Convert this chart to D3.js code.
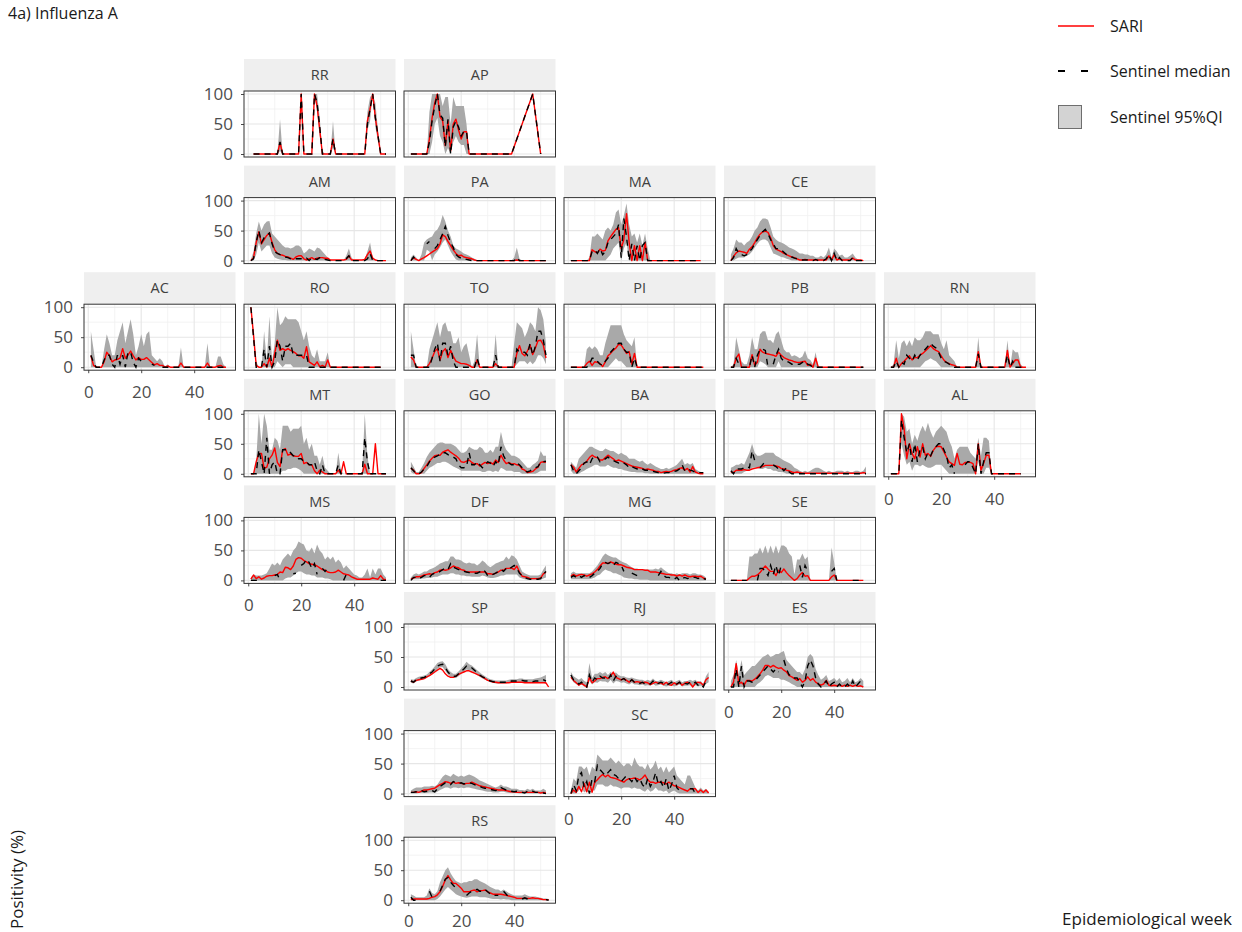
<!DOCTYPE html>
<html><head><meta charset="utf-8">
<script src="https://cdn.jsdelivr.net/npm/d3@7"></script>
<style>
body{margin:0;background:#fff}
svg{font-family:"Open Sans",sans-serif;display:block}
</style>
</head><body>
<svg id="c" width="1242" height="932"></svg>
<script>
const U = undefined; // week without any row (line connects across it)

const states  = ["RR","AP","AM","PA","MA","CE","AC","RO","TO","PI","PB","RN","MT","GO","BA","PE","AL","MS","DF","MG","SE","SP","RJ","ES","PR","SC","RS"];
const gridCol = [1,2, 1,2,3,4, 0,1,2,3,4,5, 1,2,3,4,5, 1,2,3,4, 2,3,4, 2,3, 2];
const gridRow = [0,0, 1,1,1,1, 2,2,2,2,2,2, 3,3,3,3,3, 4,4,4,4, 5,5,5, 6,6, 7];
const weeks = d3.range(1, 54);
const xTicks = [0, 20, 40];
const yTicks = [0, 50, 100];
const legendLabels = ["SARI", "Sentinel median", "Sentinel 95%QI"];

const sari = {
RR:[null,0,0,0,0,0,0,0,0,0, 0,19,0,0,0,0,0,0,0,100, 0,0,0,0,100,80,40,0,0,0, 0,25,0,0,0,0,0,0,0,0, 0,0,0,0,55,75,100,60,30,0, 0,0,null],
AP:[0,0,0,0,0,0,0,25,60,85, 100,62,55,14,55,5,50,58,40,25, 37,37,0,0,0,0,0,0,0,0, 0,0,0,0,0,0,0,0,0,U, U,U,U,U,U,U,100,U,U,0, U,U,U],
AM:[0,5,30,48,28,35,42,46,30,18, 12,10,9,7,6,4,2,6,8,8, 3,1,3,5,2,4,5,5,4,4, 1,1,1,1,1,1,2,8,1,1, 1,1,1,2,10,16,4,1,0,0, 0,0,null],
PA:[0,5,2,0,3,5,8,11,14,17, 20,28,43,40,32,25,18,12,8,9, 6,5,4,3,1,0,0,0,0,0, 0,0,0,0,0,0,0,0,0,0, 1,0,0,0,0,0,0,0,0,0, 0,0,null],
MA:[0,0,0,0,0,0,0,0,18,15, 13,19,16,17,33,40,46,52,55,20, 35,78,30,0,25,0,25,0,30,0, 0,0,0,0,0,0,0,0,0,0, 0,0,0,0,0,0,0,0,0,0, null,null,null],
CE:[0,7,13,16,15,14,12,19,23,30, 38,44,48,49,47,38,25,19,17,15, 12,10,8,6,5,3,1,1,2,1, 1,1,1,1,1,1,1,8,1,10, 1,3,1,1,1,1,4,1,1,1, 0,null,null],
AC:[19,3,0,0,0,9,25,19,9,12, 13,15,31,15,20,27,19,12,16,13, 13,16,12,8,4,6,3,3,0,2, 0,0,0,0,7,0,0,0,0,0, 0,0,0,0,7,0,0,0,2,3, 0,0,null],
RO:[100,54,3,0,0,6,0,15,0,23, 45,28,31,28,31,28,26,23,19,19, 15,34,9,6,3,9,1,3,0,12, 0,0,0,0,0,0,0,0,0,0, 0,0,0,0,0,0,0,0,0,0, null,null,null],
TO:[17,12,0,0,0,0,0,6,15,26, 31,12,26,31,16,28,18,10,8,6, 6,5,3,0,0,12,0,0,0,0, 0,0,6,0,0,0,0,0,0,0, 23,36,23,19,27,37,21,32,44,45, 37,15,null],
PI:[0,0,0,0,0,0,6,10,3,9, 8,6,1,9,19,23,28,32,38,37, 30,23,26,5,23,0,0,0,0,0, 0,0,0,0,0,0,0,0,0,0, 0,0,0,0,0,0,0,0,0,0, 0,null,null],
PB:[0,0,15,22,0,0,0,0,21,3, 8,30,25,23,22,21,20,18,25,20, 16,14,12,11,9,8,8,9,10,3, 5,0,15,0,0,0,0,0,0,0, 0,0,0,0,0,0,0,0,0,0, 0,null,null],
RN:[0,0,15,0,6,10,15,19,12,16, 16,20,23,27,31,36,31,28,26,19, 12,8,6,4,3,0,0,0,0,0, 0,0,0,26,0,0,0,0,0,0, 0,0,0,0,28,0,6,12,12,0, 0,0,null],
MT:[0,0,20,34,34,9,11,25,31,43, 19,12,40,42,31,33,30,29,29,34, 17,19,15,15,5,0,6,3,0,0, 0,0,0,6,0,20,0,0,0,0, 0,0,0,16,0,0,0,50,0,0, 0,0,null],
GO:[9,6,0,0,2,9,15,21,26,30, 31,31,36,38,40,36,33,30,26,20, 19,21,23,19,16,17,13,16,19,17, 19,16,23,19,31,23,17,19,16,17, 15,14,8,6,2,3,4,8,11,19, 20,19,null],
BA:[15,11,3,9,15,17,21,27,31,28, 27,23,23,27,31,28,25,21,23,21, 19,17,15,13,12,11,10,9,7,8, 7,6,4,4,2,3,4,3,4,6, 7,9,10,6,9,3,12,3,1,0, 0,null,null],
PE:[3,2,6,6,6,7,6,6,8,9, 10,11,12,14,14,14,14,13,12,9, 8,6,5,3,2,3,2,1,1,1, 1,1,1,1,1,1,1,1,1,1, 1,1,1,1,1,1,1,1,1,1, 2,1,null],
AL:[0,0,0,0,100,75,25,50,34,25, 45,28,50,31,34,29,39,45,46,45, 37,28,20,17,14,34,16,15,19,19, 19,17,0,50,6,17,31,31,0,0, 0,0,0,0,0,0,0,0,0,0, null,null,null],
MS:[2,9,3,6,2,4,7,8,8,9, 10,14,13,22,21,18,24,35,38,37, 33,31,28,27,26,24,21,18,17,14, 13,13,14,17,14,11,10,9,6,4, 2,2,2,2,2,2,4,3,2,8, 2,1,null],
DF:[2,4,6,6,7,9,10,11,10,13, 14,17,18,17,18,21,24,22,21,18, 17,14,14,14,14,14,14,14,14,11, 11,10,12,14,17,17,20,20,21,18, 24,14,7,6,5,3,3,3,3,4, 11,14,null],
MG:[7,10,7,9,10,9,7,9,11,14, 18,24,29,29,28,31,29,27,26,26, 24,22,21,20,18,18,18,18,17,17, 14,14,14,13,12,11,10,10,9,9, 7,9,7,9,7,6,7,7,6,7, 4,2,null],
SE:[0,0,0,0,0,0,0,4,7,7, 9,13,19,24,19,15,15,8,17,13, 19,13,8,4,0,3,9,13,7,8, 0,0,0,0,0,0,0,0,6,9, 0,0,0,0,0,0,0,0,0,0, 0,null,null],
SP:[10,8,11,12,13,14,17,19,22,25, 28,31,28,22,18,16,16,18,21,23, 25,27,27,25,23,21,19,17,14,11, 10,8,8,7,7,7,7,7,8,8, 8,8,8,7,7,7,7,7,7,7, 7,7,0],
RJ:[16,11,7,3,6,3,0,16,7,10, 14,14,16,17,14,18,25,16,14,12, 14,11,8,12,8,9,8,7,8,7, 4,6,8,6,7,4,8,4,3,7, 4,8,3,6,8,6,0,6,8,7, 3,12,16],
ES:[0,8,39,5,8,3,11,11,10,13, 17,22,28,36,36,33,36,33,31,32, 28,25,19,17,14,11,14,8,11,17, 11,14,8,5,3,5,11,3,2,3, 2,4,1,3,1,3,1,3,1,2, 0,null,null],
PR:[2,2,3,2,4,6,6,7,8,9, 12,15,17,20,19,17,19,17,18,17, 16,17,17,19,17,15,13,12,11,10, 9,8,7,6,6,6,5,4,3,3, 2,2,2,2,2,2,2,2,2,1, 2,1,null],
SC:[0,6,2,12,3,17,3,19,2,19, 23,28,32,28,31,27,26,25,23,21, 19,23,25,25,26,25,23,26,31,23, 19,19,17,19,19,18,16,19,16,13, 12,10,8,6,4,8,8,8,2,6, 2,6,1],
RS:[1,2,2,2,2,2,2,3,5,6, 9,14,23,34,41,34,28,28,24,20, 14,14,14,16,17,14,16,16,17,14, 12,10,10,10,10,9,8,7,6,5, 3,3,3,3,3,3,4,3,3,2, 1,1,1]
};

const senMed = {
RR:[null,0,0,0,0,0,0,0,0,0, 0,20,0,0,0,0,0,0,0,100, 0,0,0,0,100,85,45,0,0,0, 0,25,0,0,0,0,0,0,0,0, 0,0,0,0,50,75,100,60,30,0, 0,0,null],
AP:[0,0,0,0,0,0,0,20,55,80, 100,65,60,12,58,0,45,55,45,30, 38,38,0,0,0,0,0,0,0,0, 0,0,0,0,0,0,0,0,0,U, U,U,U,U,U,U,100,U,U,0, U,U,U],
AM:[0,3,30,50,30,38,42,46,28,15, 12,10,8,6,5,3,2,3,3,3, 2,4,0,5,3,2,5,5,2,1, 0,0,0,0,0,0,3,8,0,0, 0,0,0,0,3,12,0,0,0,0, 0,0,null],
PA:[0,6,0,null,null,null,28,32,null,20, 25,35,45,57,42,30,22,10,6,4, 3,2,1,0,0,0,0,0,0,0, 0,0,0,0,0,0,0,0,0,0, 5,0,0,0,0,0,0,0,0,0, 0,0,null],
MA:[0,0,0,0,0,0,0,0,15,18, 12,20,10,15,30,35,40,45,60,5, 70,40,0,28,0,25,0,25,30,0, 0,0,0,0,0,0,0,0,0,0, 0,0,0,0,0,0,0,0,0,0, null,null,null],
CE:[0,5,20,12,10,8,10,15,20,28, 35,42,48,52,45,35,28,20,20,18, 14,10,8,6,4,3,2,1,1,1, 0,0,2,0,0,0,3,10,0,12, 0,5,0,0,0,0,5,0,0,0, 0,null,null],
AC:[20,8,0,0,0,12,20,20,5,0, 20,5,20,0,25,25,8,0,15,10, null,15,null,5,3,null,null,0,0,0, 0,0,0,0,0,0,0,0,0,0, 0,0,0,0,0,0,0,0,0,0, 0,0,null],
RO:[100,50,0,0,0,30,0,35,0,10, 45,35,10,35,35,40,20,20,20,20, 20,20,0,0,0,0,0,0,0,0, 0,0,0,0,0,0,0,0,0,0, 0,0,0,0,0,0,0,0,0,0, null,null,null],
TO:[20,20,0,0,0,0,0,0,15,30, 40,10,40,40,20,35,10,0,0,0, 0,0,0,0,0,15,0,0,0,0, 0,0,20,0,0,0,0,0,0,0, 30,25,25,25,20,40,20,35,60,60, 45,20,null],
PI:[0,0,0,0,0,0,0,5,15,15, 10,5,3,10,15,25,30,35,40,40, 30,25,25,0,15,0,0,0,0,0, 0,0,0,0,0,0,0,0,0,0, 0,0,0,0,0,0,0,0,0,0, 0,null,null],
PB:[0,0,15,5,0,0,0,0,20,0, 20,30,30,28,0,null,5,20,30,15, 10,10,8,5,5,5,5,8,10,5, 3,0,0,0,0,0,0,0,0,0, 0,0,0,0,0,0,0,0,0,0, 0,null,null],
RN:[0,0,10,0,8,5,20,15,10,20, 12,20,25,30,35,40,35,32,25,15, 10,8,5,3,0,0,0,0,0,0, 0,0,0,22,0,0,0,0,0,0, 0,0,0,0,20,0,10,0,0,0, 0,0,null],
MT:[0,0,0,40,20,0,60,0,15,20, 0,0,40,40,40,35,30,30,25,25, 20,20,15,15,20,5,0,15,0,0, 0,0,0,15,0,0,0,0,0,0, 0,0,0,60,20,0,0,0,0,0, 0,0,null],
GO:[10,5,0,0,3,8,12,20,25,28, 30,32,35,35,32,30,28,25,15,10, 10,12,35,15,15,20,15,10,15,20, 18,12,20,15,45,30,22,18,15,15, 18,15,10,5,3,5,8,10,12,20, 20,21,null],
BA:[15,5,0,5,10,18,20,15,25,30, 28,20,22,25,28,24,22,20,18,20, 18,15,10,12,10,8,10,8,6,6, 5,4,3,2,2,1,2,2,3,4, 5,8,15,5,8,6,5,2,2,2, 2,null,null],
PE:[5,0,8,8,8,10,12,10,38,22, null,10,15,22,null,null,15,12,8,10, 5,10,3,0,0,0,0,0,0,0, 0,0,0,0,0,0,0,0,0,0, 0,0,0,0,0,0,0,0,0,0, 0,0,null],
AL:[0,0,0,0,90,60,35,50,20,50, 20,40,45,25,35,30,40,45,50,50, 40,30,10,15,0,null,null,null,15,20, 20,10,0,50,0,20,35,35,0,0, 0,0,0,0,0,0,0,0,0,0, null,null,null],
MS:[0,0,0,0,0,null,null,null,null,8, 10,0,null,null,null,null,11,12,null,25, 28,35,30,20,28,10,null,20,15,20, null,null,null,null,null,0,10,null,null,null, null,null,null,null,null,null,null,null,null,0, 0,0,null],
DF:[0,5,5,3,5,8,8,5,10,12, 12,15,18,20,18,28,22,20,18,18, 15,14,13,12,12,12,14,18,15,8, 8,10,12,15,18,15,20,18,22,25, 20,12,8,5,3,2,2,2,2,3, 10,15,null],
MG:[5,8,5,8,5,8,5,5,8,12, 15,20,28,30,28,30,25,30,28,25, 15,null,null,12,10,8,null,null,null,null, null,null,null,8,15,8,5,5,3,2, 5,0,3,5,3,5,5,5,3,5, 3,2,null],
SE:[0,0,0,0,0,0,0,null,null,null, 0,20,20,15,8,25,10,25,8,25, null,15,null,null,null,null,25,5,25,15, null,null,null,null,null,null,null,null,15,20, 0,null,null,null,null,null,0,0,0,0, 0,null,null],
SP:[10,8,12,14,15,16,18,22,25,30, 35,37,38,32,25,20,18,18,22,26, 30,35,33,32,28,24,20,17,15,12, 10,9,8,8,8,8,8,9,10,10, 10,11,11,10,10,10,9,10,10,11, 12,10,null],
RJ:[20,12,10,5,8,3,0,20,8,15, 12,18,15,15,12,20,10,18,15,12, 14,10,8,12,8,8,6,8,5,6, 5,10,5,6,8,6,3,5,8,3, 5,8,3,6,5,8,5,8,3,5, 0,10,null],
ES:[0,0,30,0,35,0,10,10,8,10, 15,20,25,30,35,30,25,30,25,null, 45,30,20,20,15,15,8,0,10,35, 45,35,15,5,0,5,10,0,5,8, 0,5,0,0,5,0,10,0,5,10, 5,null,null],
PR:[2,2,3,5,5,3,4,5,5,3, 8,12,15,18,17,15,20,18,17,18, 16,17,18,17,15,13,12,10,9,8, 7,6,5,6,10,8,6,5,4,3, 4,3,2,1,4,3,4,2,2,2, 1,0,null],
SC:[0,15,5,30,35,10,20,0,25,20, 47,40,35,30,35,40,32,30,25,20, 25,30,25,20,28,20,25,15,10,25, 12,20,35,15,20,10,25,5,15,30, 10,5,null,null,null,8,8,0,null,null, null,null,null],
RS:[5,0,0,null,null,null,null,15,5,null, null,15,25,35,38,30,25,20,null,null, null,8,12,15,16,18,15,15,18,14, 10,8,8,8,null,15,10,5,null,null, null,null,2,4,2,0,null,null,null,null, null,1,0]
};

const senLo = {
RR:[null,0,0,0,0,0,0,0,0,0, 0,5,0,0,0,0,0,0,0,100, 0,0,0,0,100,70,30,0,0,0, 0,10,0,0,0,0,0,0,0,0, 0,0,0,0,40,55,100,45,20,0, 0,0,null],
AP:[0,0,0,0,0,0,0,0,20,50, 60,30,20,0,10,0,20,30,20,15, 15,0,0,0,0,0,0,0,0,0, 0,0,0,0,0,0,0,0,0,U, U,U,U,U,U,U,100,U,U,0, U,U,U],
AM:[0,0,10,30,15,20,25,25,12,5, 3,2,1,1,0,0,0,0,0,0, 0,0,0,0,0,0,0,0,0,0, 0,0,0,0,0,0,0,0,0,0, 0,0,0,0,0,0,0,0,0,0, 0,0,null],
PA:[0,0,0,0,0,0,18,15,0,10, 15,22,30,35,25,15,8,2,0,0, 0,0,0,0,0,0,0,0,0,0, 0,0,0,0,0,0,0,0,0,0, 0,0,0,0,0,0,0,0,0,0, 0,0,null],
MA:[0,0,0,0,0,0,0,0,0,0, 0,0,0,0,5,10,20,25,30,0, 20,30,0,0,0,0,0,0,0,0, 0,0,0,0,0,0,0,0,0,0, 0,0,0,0,0,0,0,0,0,0, null,null,null],
CE:[0,0,3,5,5,5,8,10,15,22, 28,33,35,35,32,22,12,10,8,6, 5,3,2,0,0,0,0,0,0,0, 0,0,0,0,0,0,0,0,0,0, 0,0,0,0,0,0,0,0,0,0, 0,null,null],
AC:[0,0,0,0,0,0,0,0,0,0, 0,0,0,0,0,0,0,0,0,0, 0,0,0,0,0,0,0,0,0,0, 0,0,0,0,0,0,0,0,0,0, 0,0,0,0,0,0,0,0,0,0, 0,0,null],
RO:[100,40,0,0,0,0,0,0,0,0, 10,5,0,5,5,5,0,0,0,0, 0,0,0,0,0,0,0,0,0,0, 0,0,0,0,0,0,0,0,0,0, 0,0,0,0,0,0,0,0,0,0, null,null,null],
TO:[0,0,0,0,0,0,0,0,0,0, 0,0,0,0,0,0,0,0,0,0, 0,0,0,0,0,0,0,0,0,0, 0,0,0,0,0,0,0,0,0,0, 5,10,10,10,5,10,5,10,20,20, 15,5,null],
PI:[0,0,0,0,0,0,0,0,0,0, 0,0,0,0,0,5,10,15,10,10, 5,0,0,0,0,0,0,0,0,0, 0,0,0,0,0,0,0,0,0,0, 0,0,0,0,0,0,0,0,0,0, 0,null,null],
PB:[0,0,0,0,0,0,0,0,0,0, 0,10,8,5,0,0,0,0,10,0, 0,0,0,0,0,0,0,0,0,0, 0,0,0,0,0,0,0,0,0,0, 0,0,0,0,0,0,0,0,0,0, 0,null,null],
RN:[0,0,0,0,0,0,0,0,0,0, 0,0,5,10,12,15,12,10,5,0, 0,0,0,0,0,0,0,0,0,0, 0,0,0,0,0,0,0,0,0,0, 0,0,0,0,0,0,0,0,0,0, 0,0,null],
MT:[0,0,0,0,0,0,0,0,0,0, 0,0,5,5,8,8,10,10,8,5, 0,0,0,0,0,0,0,0,0,0, 0,0,0,0,0,0,0,0,0,0, 0,0,0,0,0,0,0,0,0,0, 0,0,null],
GO:[3,0,0,0,0,0,5,10,12,15, 18,18,20,20,18,15,12,10,8,5, 5,5,5,5,5,5,5,3,3,5, 5,3,5,3,10,8,5,5,5,3, 3,3,0,0,0,0,0,0,2,5, 5,5,null],
BA:[5,0,0,0,3,5,8,10,12,15, 15,12,12,12,15,12,10,10,8,8, 6,5,4,3,3,2,2,2,1,1, 0,0,0,0,0,0,0,0,0,0, 0,0,0,0,0,0,0,0,0,0, 0,null,null],
PE:[0,0,0,0,0,3,5,5,10,10, 10,8,8,10,8,8,5,5,3,3, 2,0,0,0,0,0,0,0,0,0, 0,0,0,0,0,0,0,0,0,0, 0,0,0,0,0,0,0,0,0,0, 0,0,null],
AL:[0,0,0,0,50,30,15,20,5,15, 15,12,15,12,10,10,12,15,15,15, 10,5,0,0,0,0,0,0,0,0, 0,0,0,20,0,0,10,10,0,0, 0,0,0,0,0,0,0,0,0,0, null,null,null],
MS:[0,0,0,0,0,0,0,0,0,0, 0,0,0,3,5,5,8,12,15,15, 12,10,10,8,8,5,5,5,3,3, 2,0,0,0,0,0,0,0,0,0, 0,0,0,0,0,0,0,0,0,0, 0,0,null],
DF:[0,2,2,2,3,3,4,4,5,6, 6,8,10,10,10,12,12,10,10,8, 8,7,7,6,6,6,6,8,7,5, 4,4,5,6,8,8,10,10,10,10, 10,5,3,2,1,1,1,1,1,1, 3,5,null],
MG:[2,2,2,2,2,2,2,2,3,5, 8,10,15,18,16,15,12,12,10,8, 5,4,3,3,2,2,1,1,1,1, 0,0,0,0,0,0,0,0,0,0, 0,0,0,0,0,0,0,0,0,0, 0,0,null],
SE:[0,0,0,0,0,0,0,0,0,0, 0,0,0,0,0,0,0,0,0,0, 0,0,0,0,0,0,0,0,0,0, 0,0,0,0,0,0,0,0,0,0, 0,0,0,0,0,0,0,0,0,0, 0,null,null],
SP:[7,6,9,11,12,13,15,18,21,25, 30,33,33,27,21,17,15,15,18,22, 26,29,28,27,24,20,17,14,12,10, 8,7,6,6,6,6,6,7,8,8, 8,8,8,8,7,7,7,7,7,7, 7,5,null],
RJ:[15,8,5,2,4,1,0,10,4,8, 7,10,9,9,7,12,6,10,9,7, 8,6,4,7,4,4,3,4,2,3, 2,5,2,3,4,2,1,2,3,1, 2,4,1,2,2,3,1,3,1,2, 0,5,8],
ES:[0,0,0,0,0,0,0,0,0,0, 5,8,12,18,20,18,15,15,15,12, 12,10,8,5,3,0,0,0,0,0, 0,0,0,0,0,0,0,0,0,0, 0,0,0,0,0,0,0,0,0,0, 0,null,null],
PR:[0,0,0,1,1,1,1,2,2,1, 3,6,8,10,10,8,10,10,9,10, 9,10,10,9,8,7,6,5,4,3, 3,2,2,2,3,3,2,1,1,1, 1,0,0,0,0,0,0,0,0,0, 0,0,null],
SC:[0,0,0,5,10,2,5,0,5,5, 15,15,15,12,12,15,12,12,10,8, 10,10,10,8,10,8,8,5,3,8, 3,5,10,5,5,3,5,0,3,5, 2,0,0,0,0,0,0,0,0,0, 0,0,0],
RS:[0,0,0,0,0,0,0,0,0,0, 2,6,12,18,22,18,14,10,8,6, 5,4,5,6,6,6,5,5,5,4, 3,2,2,2,1,2,1,1,0,0, 0,0,0,0,0,0,0,0,0,0, 0,0,0]
};

const senHi = {
RR:[null,0,0,0,0,0,0,0,0,0, 0,58,0,0,0,0,0,0,0,100, 0,0,0,0,100,100,60,5,0,0, 0,55,0,0,0,0,0,0,0,0, 0,0,0,0,70,95,100,85,40,0, 0,0,null],
AP:[0,0,0,0,0,0,0,70,100,100, 100,100,80,95,95,50,95,80,80,80, 80,50,0,0,0,0,0,0,0,0, 0,0,0,0,0,0,0,0,0,U, U,U,U,U,U,U,100,U,U,0, U,U,U],
AM:[2,15,45,65,50,60,65,66,45,40, 35,30,25,22,22,20,22,25,25,22, 12,15,20,18,15,22,20,15,10,5, 2,0,0,0,0,0,8,20,5,0, 0,0,0,3,15,30,5,0,0,0, 0,0,null],
PA:[5,10,5,0,10,30,35,38,40,48, 52,60,76,65,50,40,25,20,18,15, 12,10,8,5,3,0,0,0,0,0, 0,0,0,0,0,0,0,0,0,5, 22,3,0,0,0,0,0,0,0,0, 0,0,null],
MA:[0,0,0,0,0,0,0,5,40,40, 45,40,35,50,55,50,60,80,85,60, 75,95,60,40,45,30,45,25,45,20, 0,0,0,0,0,0,0,0,0,0, 0,0,0,0,0,0,0,0,0,0, null,null,null],
CE:[10,20,35,30,30,25,30,33,40,50, 55,65,70,70,68,55,40,35,32,30, 28,25,22,20,18,15,12,12,10,10, 8,8,5,5,8,5,10,22,5,20, 15,8,10,5,5,8,12,5,2,0, 0,null,null],
AC:[60,30,0,0,0,30,55,40,20,20, 45,60,75,40,60,80,55,20,35,55, 35,55,60,20,15,10,15,10,0,5, 0,0,0,0,33,0,0,0,0,0, 0,0,0,0,40,0,0,0,18,18, 5,0,null],
RO:[100,60,10,0,0,60,10,85,10,40, 100,70,75,85,80,80,80,80,75,60, 45,60,35,20,15,30,10,10,10,25, 0,0,0,0,0,0,0,0,0,0, 0,0,0,0,0,0,0,0,0,0, null,null,null],
TO:[60,30,0,0,0,0,0,30,45,60, 75,50,70,75,60,60,40,40,50,25, 35,40,20,0,10,55,0,0,0,0, 0,0,55,0,0,0,0,0,0,40, 75,70,65,50,60,75,70,60,100,95, 80,40,null],
PI:[0,0,0,0,0,0,30,35,30,35, 30,20,20,40,55,70,70,70,70,70, 55,45,40,35,50,0,0,0,0,0, 0,0,0,0,0,0,0,0,0,0, 0,0,0,0,0,0,0,0,0,0, 0,null,null],
PB:[0,5,50,30,10,5,5,20,50,30, 30,55,60,60,45,45,40,55,60,45, 30,25,25,18,20,18,15,18,28,15, 12,5,25,0,0,0,0,0,0,0, 0,0,0,0,0,0,0,0,0,0, 0,null,null],
RN:[0,5,45,15,40,45,35,45,35,50, 45,45,50,60,60,60,55,55,55,40, 30,45,20,15,10,0,0,0,0,0, 0,0,0,50,0,0,0,0,0,0, 0,0,0,0,45,0,30,25,25,5, 0,0,null],
MT:[0,0,20,100,50,100,80,40,40,60, 55,40,80,80,80,70,75,75,75,80, 50,60,40,50,30,30,15,30,10,5, 0,0,0,35,5,0,0,0,0,0, 0,0,0,100,30,0,0,0,0,0, 0,0,null],
GO:[20,12,3,3,10,18,28,35,40,45, 50,52,52,50,50,50,48,45,40,35, 35,38,45,42,40,40,45,42,35,35, 40,35,45,45,70,50,40,35,30,30, 28,25,20,15,10,10,15,18,22,38, 30,30,null],
BA:[20,15,10,25,30,35,40,45,45,42, 40,38,38,42,40,38,38,35,32,35, 32,30,25,25,25,22,20,22,18,15, 18,15,12,10,8,8,10,8,10,12, 15,20,25,15,18,15,18,8,5,3, 3,null,null],
PE:[10,12,15,15,18,15,25,35,50,35, 30,30,32,35,35,35,35,30,28,25, 22,20,18,15,10,8,5,3,5,3, 5,8,10,10,8,5,3,5,3,3, 5,5,5,3,5,3,3,5,5,3, 5,12,null],
AL:[0,0,0,0,100,95,70,75,50,65, 55,70,80,70,85,70,60,70,75,80, 75,70,55,45,25,40,45,45,45,45, 35,30,25,60,30,60,60,55,0,0, 0,0,0,0,0,0,0,0,0,0, null,null,null],
MS:[5,10,8,8,8,10,12,20,28,25, 30,25,35,40,45,40,50,55,65,62, 60,50,48,55,45,60,50,45,35,40, 35,40,30,35,30,20,25,20,15,10, 8,5,5,10,20,5,20,10,20,20, 10,5,null],
DF:[5,10,12,10,12,15,15,18,20,22, 25,28,30,32,32,40,40,35,35,33, 30,28,30,28,28,25,28,33,30,25, 22,25,28,30,32,33,40,35,42,40, 35,25,15,12,10,8,8,8,8,10, 18,25,null],
MG:[12,15,12,12,12,12,12,12,15,20, 25,32,40,45,42,40,38,38,35,32, 30,28,25,22,20,20,18,18,18,18, 18,18,20,18,22,18,15,12,12,10, 12,10,12,12,12,10,12,12,10,10, 8,5,null],
SE:[0,0,0,0,0,0,0,40,40,45, 45,55,45,58,45,58,45,58,45,58, 58,55,45,40,10,35,35,45,35,40, 0,0,0,0,0,0,0,0,55,30, 0,0,0,0,0,0,0,0,0,0, 0,null,null],
SP:[13,12,15,17,18,19,21,25,29,34, 40,42,43,38,30,25,22,22,26,31, 36,42,38,36,32,28,24,21,18,15, 13,12,11,11,11,11,11,12,13,13, 13,14,14,13,13,13,13,14,15,16, 18,20,null],
RJ:[25,18,15,12,15,10,8,40,15,22, 22,25,22,25,20,25,22,24,20,18, 18,16,15,16,14,13,12,12,10,12, 10,14,10,10,12,10,8,10,12,8, 10,12,8,10,10,12,10,12,8,10, 5,18,25],
ES:[10,20,45,20,45,20,25,30,35,35, 40,45,50,52,55,50,52,55,55,58, 60,45,40,35,30,25,25,20,30,50, 55,50,30,20,12,15,20,10,12,15, 10,15,8,10,15,8,15,8,10,15, 10,null,null],
PR:[5,8,10,10,10,12,12,12,13,12, 15,22,28,32,30,28,33,30,28,30, 28,30,32,30,28,25,22,20,18,16, 14,12,10,12,15,12,12,10,8,8, 8,6,6,5,8,6,8,5,5,5, 8,5,null],
SC:[5,25,20,45,45,40,45,30,45,40, 65,60,55,55,55,60,55,50,55,50, 45,50,50,45,60,50,45,45,40,50, 40,45,55,40,45,35,45,35,40,45, 30,25,20,15,30,30,20,10,5,10, 5,8,3],
RS:[10,8,5,5,5,5,8,20,12,10, 15,30,40,50,55,45,38,32,30,28, 30,30,32,32,35,35,32,30,28,25, 22,20,18,18,15,18,15,12,10,8, 8,8,8,10,8,6,6,6,5,4, 3,3,2]
};

// ---------- layout ----------
const svg = d3.select("#c");
const PW = 151.5, PH = 66, SH = 32;
const colX = c => 84 + 160 * c;
const rowY = r => 91 + 106.6 * r;
const x = d3.scaleLinear().domain([1 - 2.6, 53 + 2.6]).range([0, PW]);
const y = d3.scaleLinear().domain([-5, 105]).range([PH, 0]);
const lastRow = d3.max(gridRow);

const firstInRow = {}, lastInCol = {};
states.forEach((s, i) => {
  const r = gridRow[i], c = gridCol[i];
  if (firstInRow[r] === undefined || c < gridCol[states.indexOf(firstInRow[r])]) firstInRow[r] = s;
  if (lastInCol[c] === undefined || r > gridRow[states.indexOf(lastInCol[c])]) lastInCol[c] = s;
});
const yAxisStates = new Set(Object.values(firstInRow));
const xAxisStates = new Set(Object.values(lastInCol));

const lineSari = d3.line().x(d => x(d.w)).y(d => y(d.v));
const lineMed = d3.line().defined(d => d.v !== null).x(d => x(d.w)).y(d => y(d.v));
const areaQI = d3.area().defined(d => d.lo !== null && d.hi !== null)
  .x(d => x(d.w)).y0(d => y(d.lo)).y1(d => y(d.hi));

function styleAxis(g) {
  g.attr("font-size", null).attr("font-family", null);
  g.select(".domain").remove();
  g.selectAll(".tick line").attr("stroke", "#333").attr("stroke-width", 0.9);
  g.selectAll(".tick text").attr("fill", "#4d4d4d").style("font-size", "17px");
}

states.forEach((s, i) => {
  const g = svg.append("g").attr("transform", `translate(${colX(gridCol[i])},${rowY(gridRow[i])})`);
  // strip
  g.append("rect").attr("x", 0).attr("y", -SH).attr("width", PW).attr("height", SH).attr("fill", "#efefef");
  g.append("text").attr("x", PW / 2).attr("y", -SH / 2).attr("dy", "0.36em")
    .attr("text-anchor", "middle").attr("fill", "#404040").style("font-size", "14.5px").text(s);
  // panel background & grid
  g.append("rect").attr("width", PW).attr("height", PH).attr("fill", "#fff");
  const minorX = [10, 30, 50], minorY = [25, 75];
  minorX.forEach(v => g.append("line").attr("x1", x(v)).attr("x2", x(v)).attr("y1", 0).attr("y2", PH).attr("stroke", "#f0f0f0").attr("stroke-width", 0.8));
  minorY.forEach(v => g.append("line").attr("y1", y(v)).attr("y2", y(v)).attr("x1", 0).attr("x2", PW).attr("stroke", "#f0f0f0").attr("stroke-width", 0.8));
  xTicks.forEach(v => g.append("line").attr("x1", x(v)).attr("x2", x(v)).attr("y1", 0).attr("y2", PH).attr("stroke", "#e6e6e6").attr("stroke-width", 1.1));
  yTicks.forEach(v => g.append("line").attr("y1", y(v)).attr("y2", y(v)).attr("x1", 0).attr("x2", PW).attr("stroke", "#e6e6e6").attr("stroke-width", 1.1));

  // data rows (undefined = no row at all)
  const rib = [], med = [], sar = [];
  weeks.forEach((w, k) => {
    const lo = senLo[s][k], hi = senHi[s][k], m = senMed[s][k], v = sari[s][k];
    if (lo !== undefined && hi !== undefined) rib.push({ w, lo, hi });
    if (m !== undefined) med.push({ w, v: m });
    if (v !== undefined && v !== null) sar.push({ w, v });
  });
  g.append("path").datum(rib).attr("d", areaQI).attr("fill", "#a9a9a9").attr("stroke", "none");
  g.append("path").datum(sar).attr("d", lineSari).attr("fill", "none").attr("stroke", "#ff0000")
    .attr("stroke-width", 1.4).attr("stroke-linejoin", "round");
  g.append("path").datum(med).attr("d", lineMed).attr("fill", "none").attr("stroke", "#000")
    .attr("stroke-width", 1.4).attr("stroke-dasharray", "6,5");

  // border
  g.append("rect").attr("width", PW).attr("height", PH).attr("fill", "none").attr("stroke", "#333").attr("stroke-width", 1);

  if (yAxisStates.has(s)) {
    g.append("g").call(d3.axisLeft(y).tickValues(yTicks).tickSize(3).tickPadding(8)).call(styleAxis);
  }
  if (xAxisStates.has(s)) {
    const pad = gridRow[i] === lastRow ? 9 : 13;
    g.append("g").attr("transform", `translate(0,${PH})`)
      .call(d3.axisBottom(x).tickValues(xTicks).tickSize(3).tickPadding(pad)).call(styleAxis);
  }
});

// titles
svg.append("text").attr("x", 8).attr("y", 19).attr("fill", "#1a1a1a").style("font-size", "16px").text("4a) Influenza A");
svg.append("text").attr("transform", "translate(23,929) rotate(-90)").attr("text-anchor", "start")
  .attr("fill", "#1a1a1a").style("font-size", "17px").text("Positivity (%)");
svg.append("text").attr("x", 1232).attr("y", 925).attr("text-anchor", "end")
  .attr("fill", "#1a1a1a").style("font-size", "17px").text("Epidemiological week");

// legend
const lg = svg.append("g");
lg.append("line").attr("x1", 1058).attr("x2", 1094).attr("y1", 26).attr("y2", 26).attr("stroke", "#ff0000").attr("stroke-width", 1.5);
lg.append("line").attr("x1", 1058).attr("x2", 1094).attr("y1", 71).attr("y2", 71).attr("stroke", "#000").attr("stroke-width", 2).attr("stroke-dasharray", "7,16");
lg.append("rect").attr("x", 1058.5).attr("y", 105.5).attr("width", 23).attr("height", 23).attr("fill", "#d3d3d3").attr("stroke", "#6e6e6e").attr("stroke-width", 1);
[26, 71, 117].forEach((cy, k) => {
  lg.append("text").attr("x", 1110).attr("y", cy).attr("dy", "0.36em").attr("fill", "#1a1a1a")
    .style("font-size", "16px").text(legendLabels[k]);
});
</script>
</body></html>
